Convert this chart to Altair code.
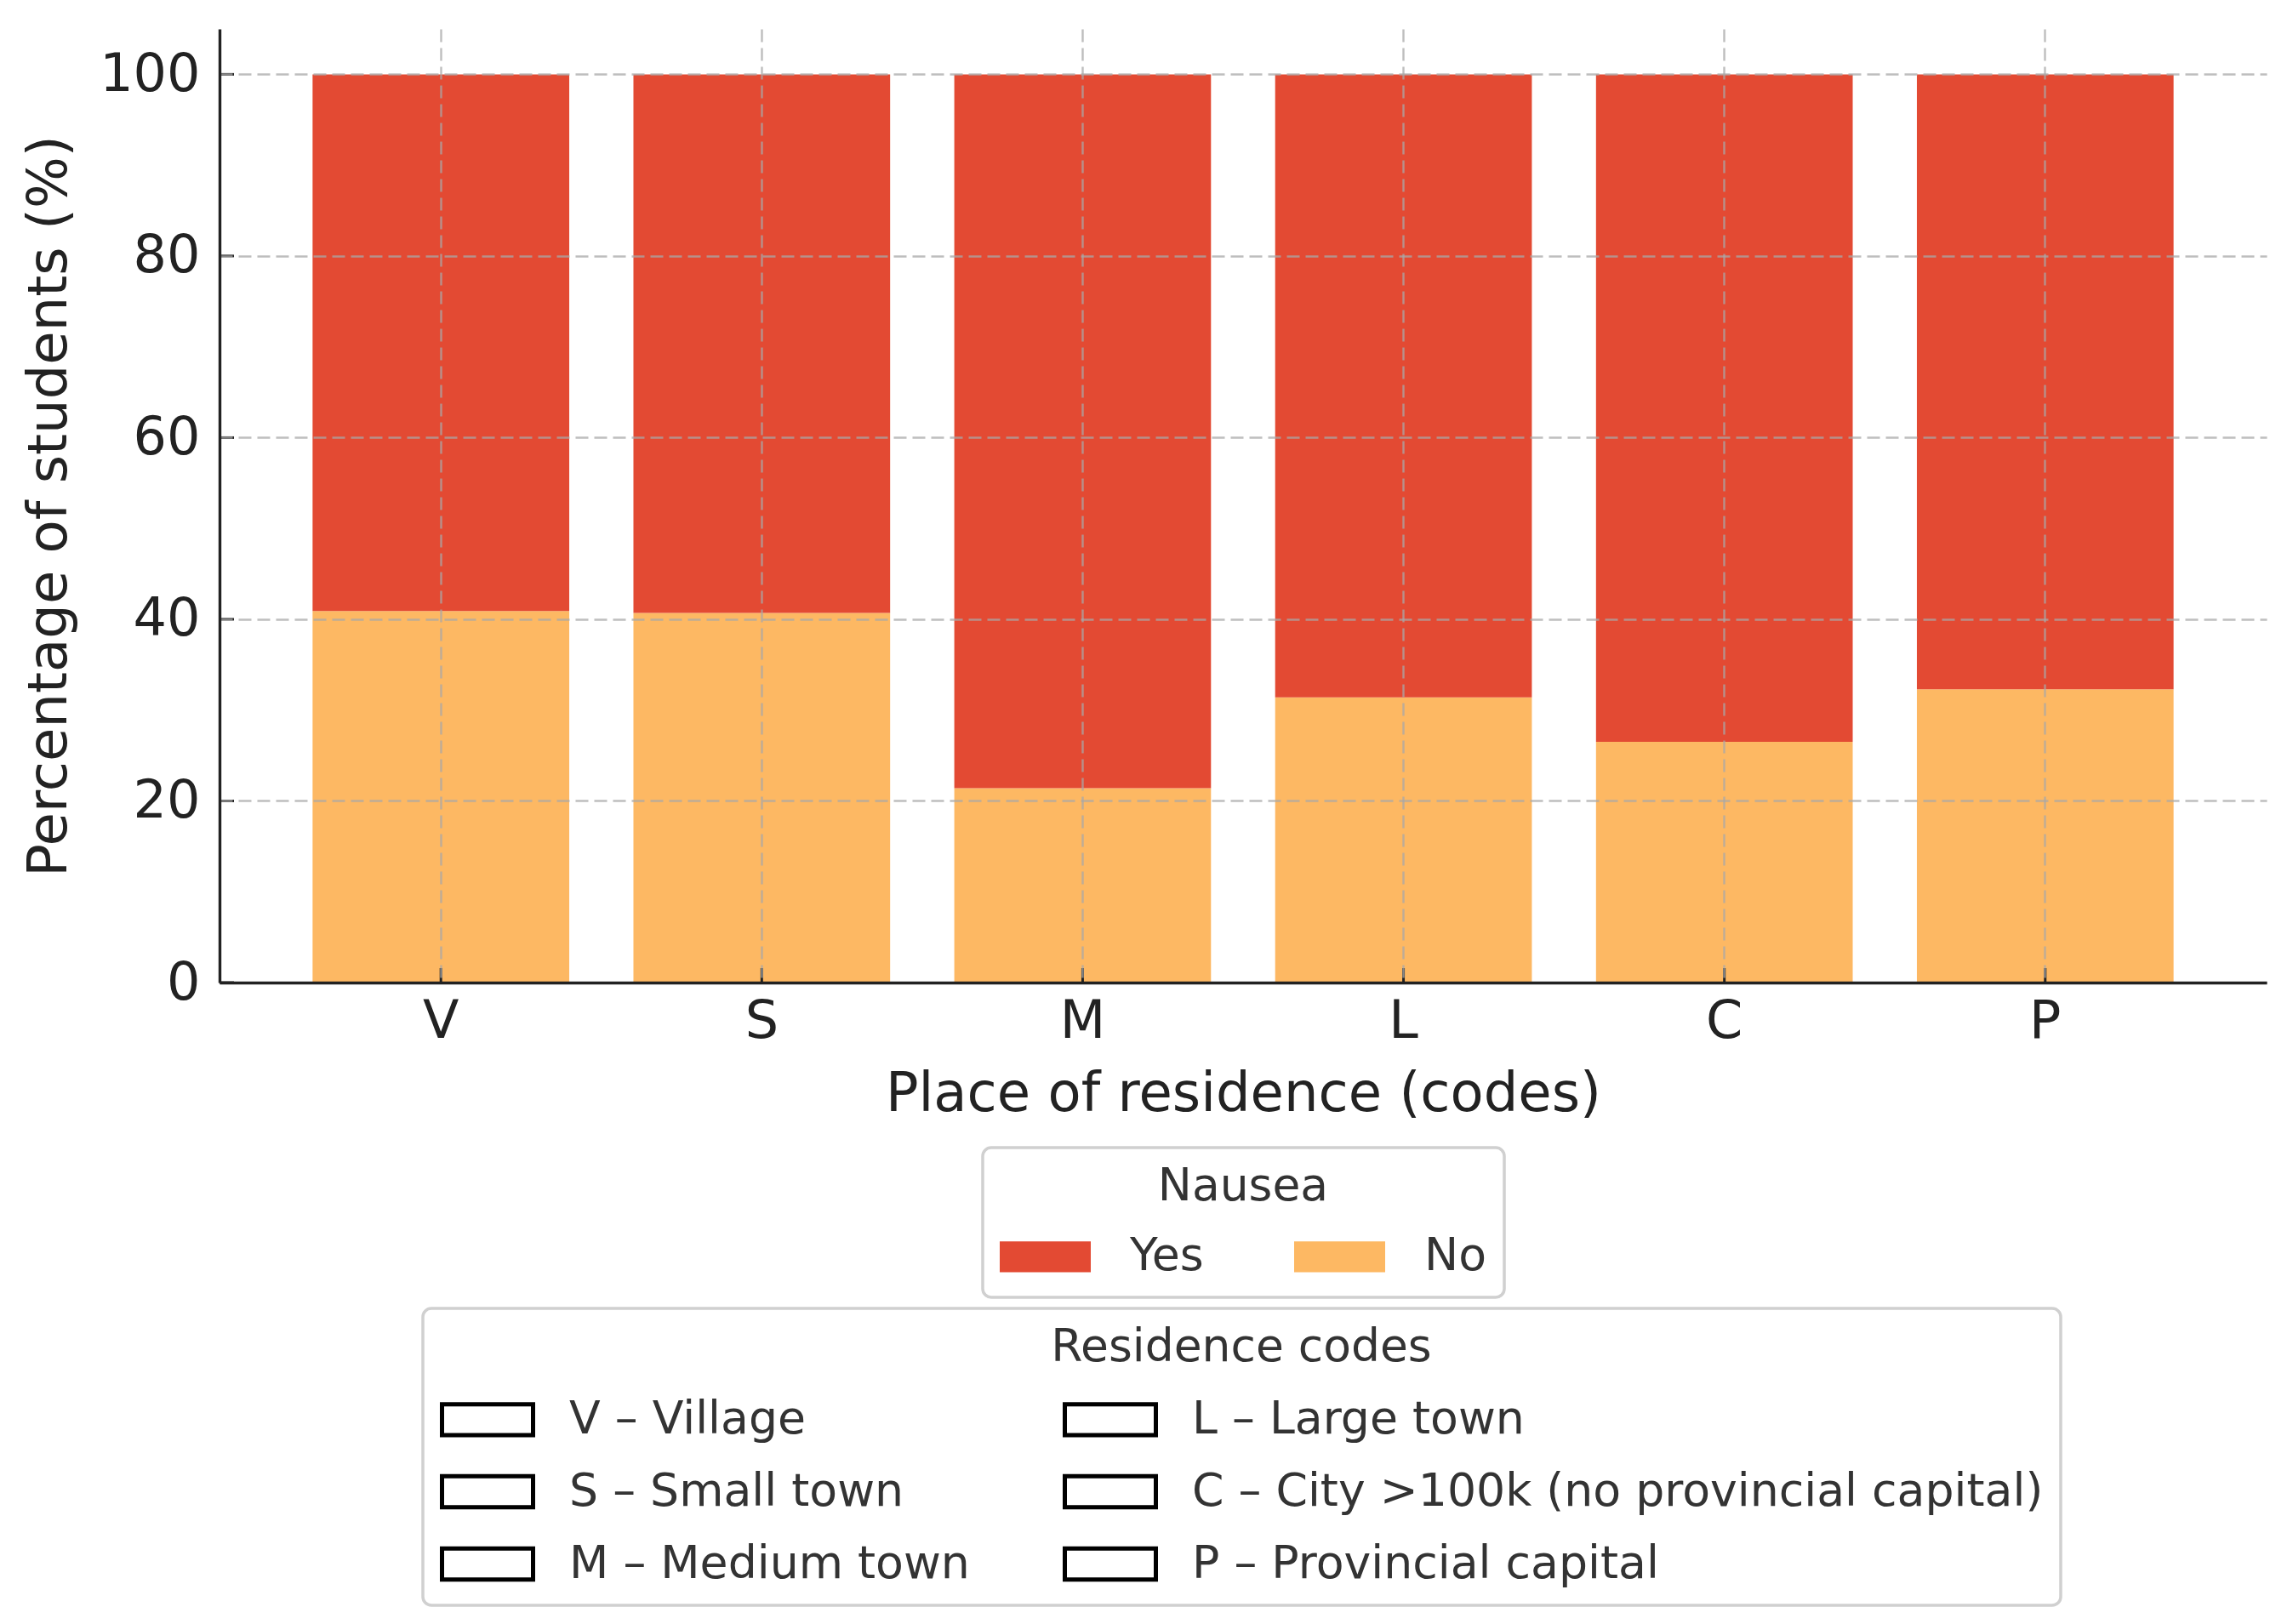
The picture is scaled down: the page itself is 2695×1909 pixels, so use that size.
import altair as alt
import pandas as pd

# ---- data ----
codes = ["V", "S", "M", "L", "C", "P"]
no_pct = [40.9, 40.7, 21.4, 31.4, 26.5, 32.3]
yes_pct = [59.1, 59.3, 78.6, 68.6, 73.5, 67.7]
nausea_levels = ["Yes", "No"]
nausea_colors = ["#e34a33", "#fdb863"]
code_desc = [
    "V – Village",
    "S – Small town",
    "M – Medium town",
    "L – Large town",
    "C – City >100k (no provincial capital)",
    "P – Provincial capital",
]
# legend is filled row by row with 2 columns -> V,L / S,C / M,P
desc_legend_order = [code_desc[0], code_desc[3], code_desc[1], code_desc[4], code_desc[2], code_desc[5]]
y_ticks = [0, 20, 40, 60, 80, 100]

# ---- tables ----
rows = []
for c, n, y in zip(codes, no_pct, yes_pct):
    rows.append({"code": c, "nausea": "No", "pct": n, "ord": 0})
    rows.append({"code": c, "nausea": "Yes", "pct": y, "ord": 1})
df_bars = pd.DataFrame(rows)
df_desc = pd.DataFrame({"code": codes, "desc": code_desc})
df_yt = pd.DataFrame({"pct": y_ticks})
df_xt = pd.DataFrame({"code": codes})

W, H = 2406, 1121
FONT = "DejaVu Sans"
RECT = "M-1,-0.34H1V0.34H-1Z"

x_enc = alt.X(
    "code:N",
    sort=codes,
    scale=alt.Scale(paddingInner=0.2, paddingOuter=0.29),
    axis=alt.Axis(
        title="Place of residence (codes)",
        labelAngle=0,
        labelFontSize=62,
        labelPadding=15,
        labelColor="#222222",
        ticks=False,
        grid=True,
        gridDash=[15, 7],
        gridColor="#a8a8a8",
        gridOpacity=0.75,
        gridWidth=2.4,
        domainColor="#222222",
        domainWidth=3.4,
        titleFontSize=64,
        titleFontWeight="normal",
        titleColor="#222222",
        titleX=W / 2,
        titleY=131,
        titleBaseline="middle",
        titleAlign="center",
        zindex=1,
    ),
)

y_scale = alt.Scale(domain=[0, 105], nice=False)
y_axis = alt.Axis(
    title="Percentage of students (%)",
    values=y_ticks,
    labelFontSize=62,
    labelPadding=23,
    labelColor="#222222",
    ticks=False,
    grid=True,
    gridDash=[15, 7],
    gridColor="#a8a8a8",
    gridOpacity=0.75,
    gridWidth=2.4,
    domainColor="#222222",
    domainWidth=3.4,
    titleFontSize=64,
    titleFontWeight="normal",
    titleColor="#222222",
    titleAngle=270,
    titleX=-200,
    titleY=H / 2,
    titleAlign="center",
    titleBaseline="middle",
    zindex=1,
)

bars = alt.Chart(df_bars).mark_bar().encode(
    x=x_enc,
    y=alt.Y("pct:Q", stack="zero", scale=y_scale, axis=y_axis),
    color=alt.Color(
        "nausea:N",
        scale=alt.Scale(domain=nausea_levels, range=nausea_colors),
        legend=alt.Legend(
            title="Nausea",
            orient="none",
            legendX=897,
            legendY=1315,
            direction="horizontal",
            columns=2,
            symbolType=RECT,
            symbolSize=11449,
            symbolStrokeWidth=0,
            labelOffset=46,
            columnPadding=106,
            padding=20,
            titlePadding=1,
            titleAnchor="middle",
            titleAlign="center",
            strokeColor="#d0d0d0",
            fillColor="white",
            cornerRadius=10,
        ),
    ),
    order=alt.Order("ord:Q"),
)

codes_legend = alt.Chart(df_desc).mark_point(opacity=0, filled=False).encode(
    x=x_enc,
    y=alt.value(0),
    shape=alt.Shape(
        "desc:N",
        scale=alt.Scale(domain=desc_legend_order, range=[RECT] * 6),
        legend=alt.Legend(
            title="Residence codes",
            orient="none",
            legendX=239,
            legendY=1504,
            direction="horizontal",
            columns=2,
            symbolSize=11449,
            symbolFillColor="white",
            symbolStrokeColor="black",
            symbolStrokeWidth=5,
            labelOffset=40,
            columnPadding=101,
            rowPadding=-2.5,
            padding=20,
            titlePadding=1,
            titleAnchor="middle",
            titleAlign="center",
            strokeColor="#d0d0d0",
            fillColor="white",
            cornerRadius=10,
        ),
    ),
)

yticks = alt.Chart(df_yt).mark_rule(color="#222222", strokeWidth=3).encode(
    y=alt.Y("pct:Q", scale=y_scale, axis=y_axis),
    x=alt.value(0),
    x2=alt.value(17),
)

xticks = alt.Chart(df_xt).mark_rule(color="#222222", strokeWidth=3).encode(
    x=x_enc,
    y=alt.value(H),
    y2=alt.value(H - 17),
)

chart = (
    alt.layer(bars, codes_legend, yticks, xticks)
    .properties(
        width=W,
        height=H,
        padding={"left": 250, "top": 26, "right": 23, "bottom": 746},
        autosize=alt.AutoSizeParams(type="none"),
    )
    .configure(font=FONT)
    .configure_view(stroke=None)
    .configure_legend(
        titleFontSize=53.5,
        titleFontWeight="normal",
        titleColor="#333333",
        titleLimit=3000,
        labelFontSize=53.7,
        labelColor="#333333",
        labelLimit=3000,
        strokeWidth=3.5,
    )
)

chart.save("out.html", embed_options={"renderer": "svg", "actions": False})
